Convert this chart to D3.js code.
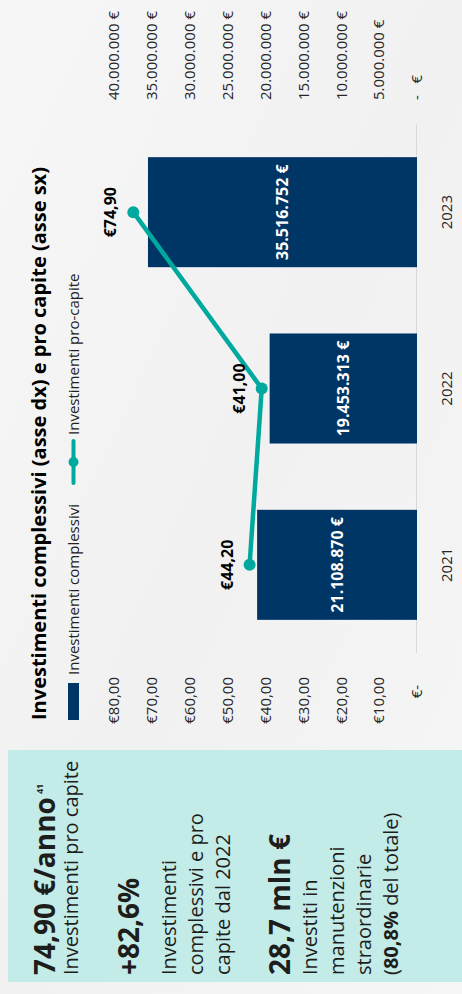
<!DOCTYPE html>
<html lang="it">
<head>
<meta charset="utf-8">
<title>Investimenti complessivi e pro capite</title>
<script src="https://cdn.jsdelivr.net/npm/d3@7/dist/d3.min.js"></script>
<style>
  html, body { margin: 0; padding: 0; background: #f4f4f4; }
  svg { display: block; font-family: "Open Sans", "Noto Sans", sans-serif; }
</style>
</head>
<body>
<svg id="chart" width="462" height="994"></svg>
<script>
// Years on the category axis
const years = ["2021", "2022", "2023"];
// Total investment per year (bars, right axis, €)
const totalInvestment = [21108870, 19453313, 35516752];
// Investment per inhabitant (line, left axis, €)
const perCapita = [44.20, 41.00, 74.90];

// Left axis ticks (per capita)
const leftTicks = [0, 10, 20, 30, 40, 50, 60, 70, 80];
const leftTickLabels = ["€-\u00a0\u00a0", "€10,00", "€20,00", "€30,00", "€40,00", "€50,00", "€60,00", "€70,00", "€80,00"];
// Right axis ticks (total)
const rightTicks = [0, 5e6, 10e6, 15e6, 20e6, 25e6, 30e6, 35e6, 40e6];
const rightTickLabels = ["-\u00a0\u00a0\u00a0€", "5.000.000 €", "10.000.000 €", "15.000.000 €", "20.000.000 €",
  "25.000.000 €", "30.000.000 €", "35.000.000 €", "40.000.000 €"];

const it = d3.formatLocale({ decimal: ",", thousands: ".", grouping: [3], currency: ["€", ""] });
const fmtTotal = v => it.format(",")(v) + " €";
const fmtCapita = v => "€" + it.format(",.2f")(v);

const svg = d3.select("#chart");

// Soft marble-like backdrop
const defs = svg.append("defs");
const bg = defs.append("linearGradient").attr("id", "bg")
  .attr("x1", 0).attr("y1", 0).attr("x2", 1).attr("y2", 1);
bg.append("stop").attr("offset", 0).attr("stop-color", "#f7f7f7");
bg.append("stop").attr("offset", 0.5).attr("stop-color", "#f1f1f1");
bg.append("stop").attr("offset", 1).attr("stop-color", "#f6f6f6");
svg.append("rect").attr("width", 462).attr("height", 994).attr("fill", "url(#bg)");

// The slide is laid out landscape (994 x 462) and turned a quarter turn
const g = svg.append("g").attr("transform", `translate(0,${994}) rotate(-90)`);

// ---------- Key-figures panel ----------
g.append("rect").attr("x", 12).attr("y", 8).attr("width", 232).attr("height", 470).attr("fill", "#c3ebe8");

const ink = "#1d1d1b";
const panel = g.append("g").attr("fill", ink);
const big = (txt, y) => panel.append("text").attr("x", 19).attr("y", y)
  .attr("font-size", 28).attr("font-weight", 700).text(txt);
const small = (txt, y) => panel.append("text").attr("x", 19).attr("y", y)
  .attr("font-size", 20).text(txt);

const head = big("74,90 €/anno", 55);
head.append("tspan").attr("dx", 3).attr("dy", -12).attr("font-size", 9).text("41");
small("Investimenti pro capite", 78);
big("+82,6%", 139);
small("Investimenti", 176);
small("complessivi e pro", 203);
small("capite dal 2022", 230);
big("28,7 mln €", 290);
small("Investiti in", 317);
small("manutenzioni", 344);
small("straordinarie", 371);
const last = panel.append("text").attr("x", 19).attr("y", 398).attr("font-size", 20);
last.append("tspan").text("(");
last.append("tspan").attr("font-weight", 700).text("80,8%");
last.append("tspan").text(" del totale)");

// ---------- Chart ----------
g.append("text").attr("x", 274).attr("y", 46)
  .attr("font-size", 20).attr("font-weight", 700).attr("fill", "#000")
  .text("Investimenti complessivi (asse dx) e pro capite (asse sx)");

// Legend
const barColor = "#003666", lineColor = "#00a99d";
const legend = g.append("g").attr("font-size", 15).attr("fill", "#222");
legend.append("rect").attr("x", 274).attr("y", 68).attr("width", 37).attr("height", 11).attr("fill", barColor);
legend.append("text").attr("x", 319).attr("y", 79).text("Investimenti complessivi");
legend.append("line").attr("x1", 511).attr("x2", 553).attr("y1", 73.5).attr("y2", 73.5)
  .attr("stroke", lineColor).attr("stroke-width", 4).attr("stroke-linecap", "round");
legend.append("circle").attr("cx", 532).attr("cy", 73.5).attr("r", 5).attr("fill", lineColor);
legend.append("text").attr("x", 559).attr("y", 79).text("Investimenti pro-capite");

const x = d3.scaleBand().domain(years).range([341, 870]).paddingInner(0.376).paddingOuter(0.188);
const yL = d3.scaleLinear().domain([0, 80]).range([417, 114]);
const yR = d3.scaleLinear().domain([0, 40e6]).range([417, 114]);

const axisInk = "#262626";

// Left axis labels
g.append("g").attr("font-size", 15).attr("fill", axisInk).attr("text-anchor", "end")
  .selectAll("text").data(leftTicks).join("text")
  .attr("x", 317).attr("y", d => yL(d)).attr("dy", "0.35em")
  .text((d, i) => leftTickLabels[i]);

// Right axis labels
g.append("g").attr("font-size", 15).attr("fill", axisInk).attr("text-anchor", "start")
  .selectAll("text").data(rightTicks).join("text")
  .attr("x", 894).attr("y", d => yR(d)).attr("dy", "0.35em")
  .text((d, i) => rightTickLabels[i]);

// Category axis
g.append("line").attr("x1", 341).attr("x2", 870).attr("y1", yR(0) - 0.5).attr("y2", yR(0) - 0.5)
  .attr("stroke", "#d9d9d9").attr("stroke-width", 1);
g.append("g").attr("font-size", 15).attr("fill", axisInk).attr("text-anchor", "middle")
  .selectAll("text").data(years).join("text")
  .attr("x", d => x(d) + x.bandwidth() / 2).attr("y", 452).text(d => d);

// Bars
const rows = years.map((y, i) => ({ year: y, total: totalInvestment[i], capita: perCapita[i] }));
g.append("g").selectAll("rect").data(rows).join("rect")
  .attr("x", d => x(d.year)).attr("width", x.bandwidth())
  .attr("y", d => yR(d.total)).attr("height", d => yR(0) - yR(d.total))
  .attr("fill", barColor);
g.append("g").attr("font-size", 16).attr("font-weight", 700).attr("fill", "#fff").attr("text-anchor", "middle")
  .selectAll("text").data(rows).join("text")
  .attr("x", d => x(d.year) + x.bandwidth() / 2)
  .attr("y", d => (yR(d.total) + yR(0)) / 2).attr("dy", "0.35em")
  .text(d => fmtTotal(d.total));

// Per-capita line
const cx = d => x(d.year) + x.bandwidth() / 2;
g.append("path").datum(rows)
  .attr("d", d3.line().x(cx).y(d => yL(d.capita)))
  .attr("fill", "none").attr("stroke", lineColor).attr("stroke-width", 4.5).attr("stroke-linejoin", "round");
g.append("g").selectAll("circle").data(rows).join("circle")
  .attr("cx", cx).attr("cy", d => yL(d.capita)).attr("r", 6).attr("fill", lineColor);
g.append("g").attr("font-size", 16).attr("font-weight", 700).attr("fill", "#000").attr("text-anchor", "middle")
  .selectAll("text").data(rows).join("text")
  .attr("x", cx).attr("y", d => yL(d.capita) - 17)
  .text(d => fmtCapita(d.capita));
</script>
</body>
</html>
